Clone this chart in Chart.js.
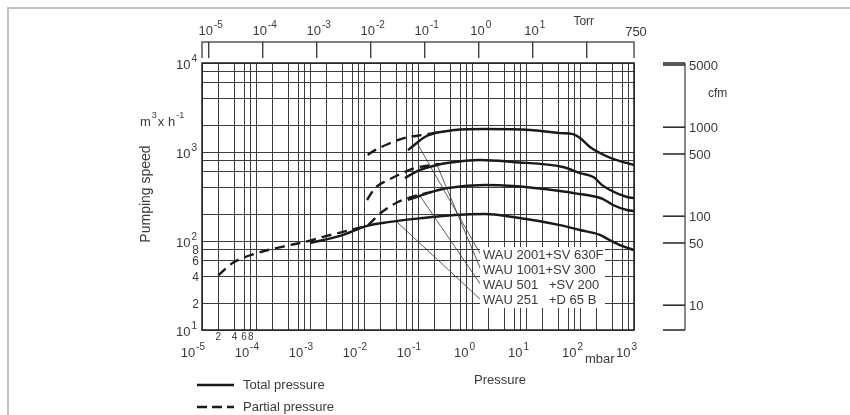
<!DOCTYPE html>
<html>
<head>
<meta charset="utf-8">
<script src="https://cdn.jsdelivr.net/npm/chart.js@4.4.0/dist/chart.umd.min.js"></script>
<style>
  html, body { margin: 0; padding: 0; background: #fff; }
</style>
</head>
<body>
<canvas id="chart" width="850" height="415"></canvas>
<script>
// pressure in mbar, pumping speed in m3/h
var p2001 = [0.065, 0.08, 0.1, 0.125, 0.153, 0.2, 0.28, 0.48, 1.7, 12, 43, 74, 100, 153, 234, 408, 741, 1000];
var s2001 = [1050, 1160, 1300, 1440, 1540, 1620, 1690, 1770, 1810, 1770, 1630, 1590, 1440, 1140, 975, 835, 752, 714];
var p2001Part = [0.0117, 0.016, 0.028, 0.057, 0.119, 0.19, 0.3];
var s2001Part = [925, 1050, 1230, 1440, 1550, 1630, 1700];

var p1001 = [0.057, 0.109, 0.225, 0.344, 1.41, 5.74, 48, 100, 180, 250, 360, 741, 1000];
var s1001 = [511, 628, 714, 752, 813, 772, 678, 580, 520, 430, 374, 312, 304];
var p1001Part = [0.0114, 0.016, 0.028, 0.043, 0.088, 0.18, 0.25];
var s1001Part = [289, 394, 484, 552, 661, 714, 735];

var p501 = [0.065, 0.109, 0.18, 0.36, 1.74, 5.74, 42.6, 100, 206, 267, 408, 741, 1000];
var s501 = [289, 321, 356, 394, 426, 415, 365, 337, 312, 296, 254, 223, 217];
var p501Part = [0.0119, 0.0215, 0.0426, 0.088, 0.18];
var s501Part = [151, 212, 274, 321, 356];

var p251 = [0.001, 0.0036, 0.0114, 0.028, 0.119, 0.48, 1.74, 5.74, 42.6, 100, 234, 359, 551, 1000];
var s251 = [95, 114, 148, 163, 181, 196, 201, 186, 151, 133, 117, 102, 90, 79];
var p251Part = [2e-5, 3.75e-5, 1.04e-4, 4.26e-4, 0.001, 0.00174, 0.0114];
var s251Part = [41, 57, 73, 90, 101, 111, 148];

var pumpNames = ["WAU 2001+SV 630F", "WAU 1001+SV 300", "WAU 501   +SV 200", "WAU 251   +D 65 B"];
// where each leader line touches its curve (mbar, m3/h)
var leaderP = [0.096, 0.225, 0.109, 0.041];
var leaderS = [1262, 714, 321, 163];

// axis ticks
var xDecadeExp = [-5, -4, -3, -2, -1, 0, 1, 2, 3];
var yDecadeExp = [1, 2, 3, 4];
var gridMant = [1, 2, 4, 6, 8];
var minorLabels = ["2", "4", "6", "8"];
var torrExp = [-5, -4, -3, -2, -1, 0, 1];
var torrExtra = [100, 750];
var cfmTicks = [10, 50, 100, 500, 1000, 5000];
var mbarPerTorr = 1.33322;
var m3hPerCfm = 1.9;

var FONT = '"Liberation Sans", Arial, sans-serif';
var TXT = "#3a3a3a";

function pts(xs, ys) {
  return xs.map(function (x, i) { return { x: x, y: ys[i] }; });
}

function gridValues(exps) {
  var out = [];
  for (var i = 0; i < exps.length - 1; i++) {
    gridMant.forEach(function (m) {
      out.push(Number((m * Math.pow(10, exps[i])).toPrecision(3)));
    });
  }
  out.push(Math.pow(10, exps[exps.length - 1]));
  return out;
}

function powText(ctx, exp, x, y, align, size) {
  ctx.font = size + "px " + FONT;
  var wb = ctx.measureText("10").width;
  var es = Math.round(size * 0.75);
  ctx.font = es + "px " + FONT;
  var we = ctx.measureText(String(exp)).width;
  var w = wb + 1 + we;
  var x0 = align === "right" ? x - w : (align === "center" ? x - w / 2 : x);
  ctx.textAlign = "left";
  ctx.textBaseline = "middle";
  ctx.font = size + "px " + FONT;
  ctx.fillText("10", x0, y);
  ctx.font = es + "px " + FONT;
  ctx.fillText(String(exp), x0 + wb + 1, y - size * 0.45);
}

function line(ctx, x1, y1, x2, y2) {
  ctx.beginPath();
  ctx.moveTo(x1, y1);
  ctx.lineTo(x2, y2);
  ctx.stroke();
}

var solid = { borderColor: "#1a1a1a", borderWidth: 2.4, pointRadius: 0, fill: false };
function curve(xs, ys, dashed) {
  return Object.assign({ data: pts(xs, ys), borderDash: dashed ? [10, 6] : [] }, solid);
}

var overlay = {
  id: "overlay",
  afterDatasetsDraw: function (chart) {
    var ctx = chart.ctx, xs = chart.scales.x, ys = chart.scales.y;
    ctx.save();
    // leader lines to the name box
    var bx = 480, by = 247, rowH = 15;
    ctx.strokeStyle = "#333";
    ctx.lineWidth = 0.8;
    leaderP.forEach(function (p, i) {
      line(ctx, xs.getPixelForValue(p), ys.getPixelForValue(leaderS[i]), bx + 1, by + 8 + i * rowH);
    });
    ctx.fillStyle = "#fff";
    ctx.fillRect(bx, by, 125, 61);
    ctx.fillStyle = TXT;
    ctx.font = "13px " + FONT;
    ctx.textAlign = "left";
    ctx.textBaseline = "middle";
    pumpNames.forEach(function (n, i) { ctx.fillText(n, bx + 3, by + 8 + i * rowH); });
    ctx.restore();
  },
  afterDraw: function (chart) {
    var ctx = chart.ctx, xs = chart.scales.x, ys = chart.scales.y, a = chart.chartArea;
    ctx.save();
    // outer frame
    ctx.strokeStyle = "#c4c4c4";
    ctx.lineWidth = 2;
    ctx.beginPath();
    ctx.moveTo(8, 415); ctx.lineTo(8, 8); ctx.lineTo(850, 8);
    ctx.stroke();

    // plot frame
    ctx.strokeStyle = "#222";
    ctx.lineWidth = 1.5;
    ctx.strokeRect(a.left, a.top, a.right - a.left, a.bottom - a.top);

    ctx.fillStyle = TXT;
    // bottom axis labels
    xDecadeExp.forEach(function (e) {
      powText(ctx, e, xs.getPixelForValue(Math.pow(10, e)) + 3, a.bottom + 23, "right", 13);
    });
    ctx.font = "10px " + FONT;
    ctx.textAlign = "center";
    ctx.textBaseline = "middle";
    minorLabels.forEach(function (t, i) {
      ctx.fillText(t, xs.getPixelForValue(gridMant[i + 1] * 1e-5), a.bottom + 7);
    });
    ctx.font = "13px " + FONT;
    ctx.textAlign = "left";
    ctx.fillText("mbar", 585, a.bottom + 29);
    ctx.textAlign = "center";
    ctx.fillText("Pressure", 500, a.bottom + 50);

    // left axis labels
    yDecadeExp.forEach(function (e) {
      powText(ctx, e, a.left - 5, ys.getPixelForValue(Math.pow(10, e)) + 2, "right", 13);
    });
    ctx.font = "12px " + FONT;
    ctx.textAlign = "right";
    minorLabels.forEach(function (t, i) {
      ctx.fillText(t, a.left - 3, ys.getPixelForValue(gridMant[i + 1] * 10) + 1);
    });
    // unit m3 x h-1
    ctx.textAlign = "left";
    ctx.font = "13px " + FONT;
    var ux = 140, uy = 122;
    ctx.fillText("m", ux, uy);
    ux += ctx.measureText("m").width + 1;
    ctx.font = "9px " + FONT;
    ctx.fillText("3", ux, uy - 6);
    ux += ctx.measureText("3").width + 1;
    ctx.font = "13px " + FONT;
    ctx.fillText("x h", ux, uy);
    ux += ctx.measureText("x h").width + 1;
    ctx.font = "9px " + FONT;
    ctx.fillText("-1", ux, uy - 6);
    // axis title
    ctx.save();
    ctx.translate(146, 194);
    ctx.rotate(-Math.PI / 2);
    ctx.font = "14px " + FONT;
    ctx.textAlign = "center";
    ctx.fillText("Pumping speed", 0, 0);
    ctx.restore();

    // top Torr scale
    var tTop = 42, tBot = 58;
    ctx.strokeStyle = "#555";
    ctx.lineWidth = 1.5;
    ctx.beginPath();
    ctx.moveTo(a.left, tBot); ctx.lineTo(a.left, tTop); ctx.lineTo(a.right, tTop); ctx.lineTo(a.right, tBot);
    ctx.stroke();
    ctx.strokeStyle = "#222";
    ctx.lineWidth = 1.2;
    torrExp.forEach(function (e) {
      var x = xs.getPixelForValue(Math.pow(10, e) * mbarPerTorr);
      line(ctx, x, tTop, x, tBot);
      powText(ctx, e, x + 2, 31, "center", 13);
    });
    var x100 = xs.getPixelForValue(torrExtra[0] * mbarPerTorr);
    line(ctx, x100, tTop, x100, tBot);
    ctx.font = "12px " + FONT;
    ctx.textAlign = "center";
    ctx.textBaseline = "middle";
    ctx.fillText("Torr", x100 - 3, 22);
    ctx.font = "13px " + FONT;
    ctx.fillText(String(torrExtra[1]), xs.getPixelForValue(torrExtra[1] * mbarPerTorr) + 2, 32);

    // right cfm scale
    var cx = 685, cl = 663;
    ctx.strokeStyle = "#888";
    ctx.lineWidth = 2;
    line(ctx, cx, a.top, cx, a.bottom);
    ctx.strokeStyle = "#222";
    ctx.lineWidth = 1.5;
    line(ctx, cl, a.top, cx, a.top);
    line(ctx, cl, a.bottom, cx, a.bottom);
    ctx.font = "13px " + FONT;
    ctx.textAlign = "left";
    cfmTicks.forEach(function (c) {
      var y = ys.getPixelForValue(c * m3hPerCfm);
      line(ctx, cl, y, cx, y);
      ctx.fillText(String(c), cx + 4, y + 1);
    });
    ctx.font = "12px " + FONT;
    ctx.fillText("cfm", 708, 94);

    // legend
    ctx.strokeStyle = "#1a1a1a";
    ctx.lineWidth = 2.4;
    line(ctx, 197, 385, 234, 385);
    ctx.setLineDash([10, 5]);
    line(ctx, 197, 407, 234, 407);
    ctx.setLineDash([]);
    ctx.font = "13px " + FONT;
    ctx.fillText("Total pressure", 243, 385);
    ctx.fillText("Partial pressure", 243, 407);
    ctx.restore();
  }
};

var xGrid = gridValues(xDecadeExp);
var yGrid = gridValues(yDecadeExp);

new Chart(document.getElementById("chart").getContext("2d"), {
  type: "line",
  data: {
    datasets: [
      curve(p2001, s2001, false),
      curve(p2001Part, s2001Part, true),
      curve(p1001, s1001, false),
      curve(p1001Part, s1001Part, true),
      curve(p501, s501, false),
      curve(p501Part, s501Part, true),
      curve(p251, s251, false),
      curve(p251Part, s251Part, true)
    ]
  },
  options: {
    responsive: false,
    animation: false,
    layout: { padding: { left: 202, right: 216, top: 63, bottom: 85 } },
    plugins: { legend: { display: false }, tooltip: { enabled: false } },
    elements: { line: { tension: 0.4, cubicInterpolationMode: "monotone" } },
    scales: {
      x: {
        type: "logarithmic", min: 1e-5, max: 1e3,
        afterBuildTicks: function (s) { s.ticks = xGrid.map(function (v) { return { value: v }; }); },
        ticks: { display: false },
        grid: { color: "#3c3c3c", lineWidth: 1, drawTicks: false },
        border: { display: false }
      },
      y: {
        type: "logarithmic", min: 10, max: 1e4,
        afterBuildTicks: function (s) { s.ticks = yGrid.map(function (v) { return { value: v }; }); },
        ticks: { display: false },
        grid: { color: "#3c3c3c", lineWidth: 1, drawTicks: false },
        border: { display: false }
      }
    }
  },
  plugins: [overlay]
});
</script>
</body>
</html>
